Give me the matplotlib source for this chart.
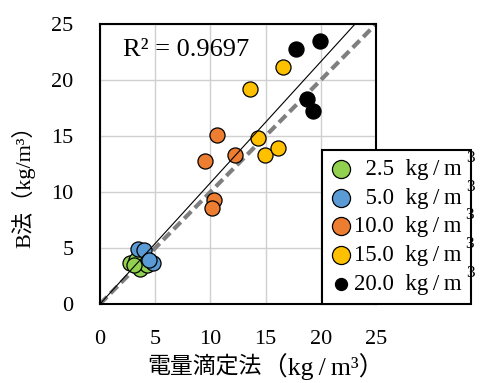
import numpy as np
import matplotlib
matplotlib.use('Agg')
import matplotlib.pyplot as plt

plt.rcParams['font.family'] = ['Liberation Serif', 'Noto Sans CJK JP']

# ============================================================
# data
# ============================================================
labels = ['  2.5  kg\u2009/\u2009m', '  5.0  kg\u2009/\u2009m', '10.0  kg\u2009/\u2009m',
          '15.0  kg\u2009/\u2009m', '20.0  kg\u2009/\u2009m']
colors = ['#92d050', '#5b9bd5', '#ed7d31', '#ffc000', '#000000']

x_25 = [2.75, 3.30, 3.60, 4.25, 3.10]
y_25 = [3.63, 3.95, 3.15, 3.50, 3.45]
x_50 = [3.47, 3.95, 4.80, 4.45]
y_50 = [4.90, 4.80, 3.70, 3.90]
x_100 = [10.63, 12.23, 9.51, 10.33, 10.11]
y_100 = [15.09, 13.30, 12.77, 9.30, 8.60]
x_150 = [13.60, 14.34, 14.95, 16.15, 16.54]
y_150 = [19.20, 14.80, 13.30, 13.90, 21.19]
x_200 = [17.75, 19.93, 18.72, 19.32]
y_200 = [22.77, 23.48, 18.30, 17.23]

xs = [x_25, x_50, x_100, x_150, x_200]
ys = [y_25, y_50, y_100, y_150, y_200]

trend_slope = 1.082
r2_text = 'R² = 0.9697'
ticks = [0, 5, 10, 15, 20, 25]

# ============================================================
# plot
# ============================================================
fig = plt.figure(figsize=(4.89, 3.83), dpi=100)
ax = fig.add_axes([100 / 489, 1 - 304 / 383, 276 / 489, 280 / 383])

ax.set_xlim(0, 25)
ax.set_ylim(0, 25)
ax.set_xticks(ticks)
ax.set_yticks(ticks)
ax.grid(True, color='#d0d0d0', lw=1.0, zorder=0)
ax.set_axisbelow(True)
ax.tick_params(length=0, labelsize=16, pad=19)
for s in ax.spines.values():
    s.set_linewidth(1.5)
    s.set_color('black')

# 1:1 line
ax.plot([0, 25], [0, 25], color='#7f7f7f', lw=3, dashes=(2.4, 1.2), zorder=1,
        clip_on=False)

for x, y, c, lab in zip(xs, ys, colors, labels):
    ax.scatter(x, y, s=118, c=c, edgecolors='black', linewidths=0.9,
               zorder=2, label=lab)

# trendline through origin
tx = np.array([0, 25 / trend_slope])
ax.plot(tx, trend_slope * tx, color='black', lw=0.8, zorder=3)

ax.text(2.1, 22.7, r2_text, fontsize=19, va='center', ha='left')

# x label in two parts (kanji + unit)
fig.text(262 / 489, 0.042, '電量滴定法', fontsize=16.5,
         ha='right', va='center')
fig.text(262 / 489, 0.042, '（kg\u2009/\u2009m³）', fontsize=18.5,
         ha='left', va='center')
fig.text(23 / 489, 1 - 181 / 383, 'B法（kg/m³）', fontsize=16,
         ha='center', va='center', rotation=90)

leg = ax.legend(loc='upper left', bbox_to_anchor=(322 / 489, 1 - 150 / 383),
                bbox_transform=fig.transFigure, borderaxespad=0,
                fontsize=16.5, frameon=True, fancybox=False, framealpha=1,
                edgecolor='black', handlelength=0.9, handletextpad=0.1,
                borderpad=0.4, labelspacing=0.33, scatterpoints=1,
                markerscale=1.2)
leg.get_frame().set_linewidth(1.5)
leg.set_zorder(10)
leg.legend_handles[4].set_sizes([75])

fig.canvas.draw()
W, H = fig.bbox.width, fig.bbox.height
for t in leg.get_texts():
    bb = t.get_window_extent()
    fig.text((bb.x1 + 4) / W, (bb.y1 + 1) / H, '3', fontsize=12.5,
             ha='left', va='center', zorder=11)

plt.savefig('out.png', dpi=100)
